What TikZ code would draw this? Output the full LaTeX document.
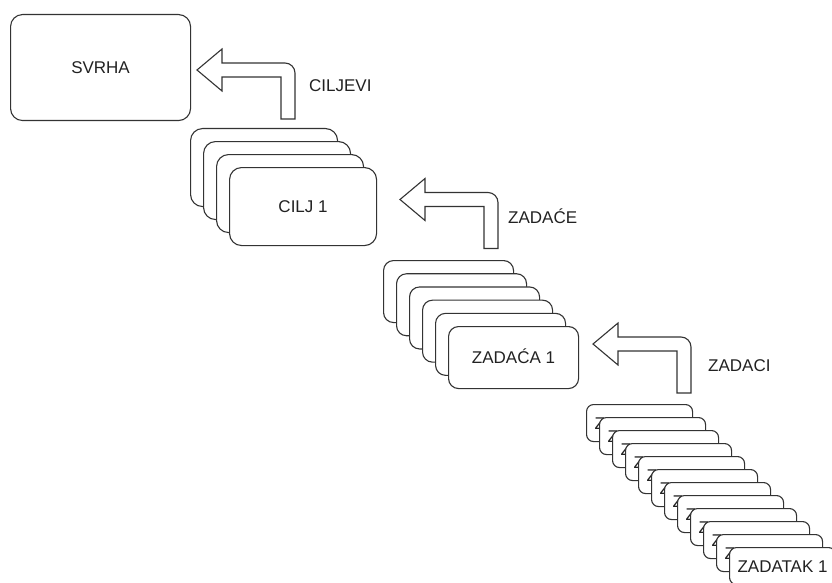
\documentclass[tikz,border=0pt]{standalone}
\usepackage{fontspec}
\setmainfont{Liberation Sans}
\usetikzlibrary{positioning}
\definecolor{linecol}{HTML}{333333}
\definecolor{textcol}{HTML}{222222}
\tikzset{
  card/.style={draw=linecol,fill=white,line width=1.1pt,inner sep=0pt,
    anchor=north west,text=textcol},
  svrhabox/.style={card,rounded corners=12pt,minimum width=180pt,minimum height=106pt},
  ciljbox/.style={card,rounded corners=12pt,minimum width=147pt,minimum height=78pt},
  zadacabox/.style={card,rounded corners=10pt,minimum width=130pt,minimum height=62pt},
  zadatakbox/.style={card,rounded corners=7pt,minimum width=106pt,minimum height=37pt},
  lbl/.style={text=textcol,inner sep=0pt,anchor=west},
  bentarrow/.pic={
    \draw[draw=linecol,fill=white,line width=1.1pt,line join=miter]
      (0,0) -- (25,-21) -- (25,-7) -- (88,-7)
      arc[start angle=-90,end angle=0,radius=10]
      -- (98,49) -- (84,49) -- (84,7) -- (25,7) -- (25,21) -- cycle;
  }
}

\begin{document}
\begin{tikzpicture}[x=1pt,y=-1pt,
    every node/.style={font=\fontsize{17}{20}\selectfont,text height=12.2pt,text depth=0pt}]
  \useasboundingbox (0,0) rectangle (832,583);
  \fill[white] (0,0) rectangle (832,583);
  \clip (0,0) rectangle (832,583);

  \node[svrhabox] (svrha) at (10,14) {SVRHA};

  % ciljevi
  \foreach \k in {0,...,2}
    \node[ciljbox] (cilj\k) at ({190+13*\k},{128+13*\k}) {};
  \node[ciljbox] (cilj3) at (229,167) {CILJ 1};
  \pic at (197,70) {bentarrow};
  \node[lbl] (ciljevi) at (309,85) {CILJEVI};

  % zadace
  \foreach \k in {0,...,4}
    \node[zadacabox] (zadaca\k) at ({383+13*\k},{260+13.2*\k}) {};
  \node[zadacabox] (zadaca5) at (448,326) {ZADAĆA 1};
  \pic at (400,199.5) {bentarrow};
  \node[lbl] (zadace) at (508,217) {ZADAĆE};

  % zadaci
  \foreach \k in {0,...,11}
    \node[zadatakbox] (zadatak\k) at ({586+13*\k},{404+13*\k}) {ZADATAK 1};
  \pic at (593,344) {bentarrow};
  \node[lbl] (zadaci) at (708,365) {ZADACI};
\end{tikzpicture}
\end{document}
